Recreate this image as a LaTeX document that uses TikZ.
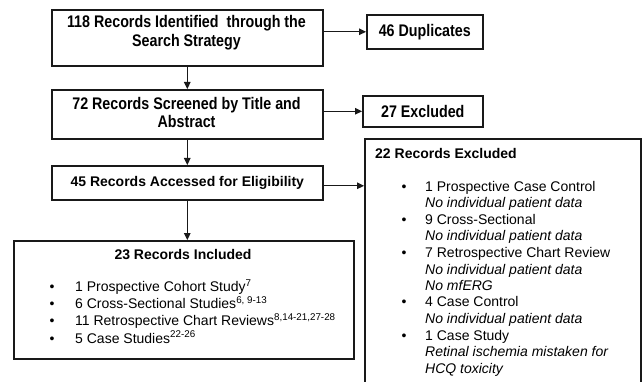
\documentclass[tikz,border=0pt]{standalone}
\usepackage{fontspec}
\setmainfont{Liberation Sans}
\newfontfamily\narrowfont[FakeStretch=0.85]{Liberation Sans}
\usetikzlibrary{arrows.meta}
\begin{document}
\begin{tikzpicture}[x=1pt,y=1pt,
  box/.style={draw=black!90, line width=1.6pt, rectangle, inner sep=0pt, anchor=north west},
  arr/.style={draw=black!90, line width=1.3pt, -{Triangle[length=7pt,width=6.5pt]}},
  toptxt/.style={font=\narrowfont\bfseries\fontsize{16.8}{18.5}\selectfont, align=center, inner sep=0pt},
  midtxt/.style={font=\bfseries\fontsize{14}{16}\selectfont},
  listtxt/.style={inner sep=0pt, anchor=base west}
]
\useasboundingbox (0,0) rectangle (642,-382);
\fill[white] (0,0) rectangle (642,-382);

% boxes
\node[box, minimum width=271pt, minimum height=56pt] (b1) at (51,-9) {};
\node[toptxt] (b1t) at (186.5,-32.5) {118 Records Identified\ \ through the\\Search Strategy};
\node[box, toptxt, minimum width=116pt, minimum height=34pt, anchor=north west] (dup) at (366,-14) {46 Duplicates};

\node[box, minimum width=271pt, minimum height=49pt] (b2) at (51,-89) {};
\node[toptxt] (b2t) at (186.5,-112.5) {72 Records Screened by Title and\\Abstract};
\node[box, toptxt, minimum width=120pt, minimum height=31pt, anchor=north west] (ex27) at (362,-95) {27 Excluded};

\node[box, midtxt, minimum width=271pt, minimum height=34pt] (b3) at (51,-165) {45 Records Accessed for Eligibility};

\node[box, minimum width=276pt, minimum height=246pt] (b22) at (364,-138) {};
\node[midtxt, inner sep=0pt, anchor=base west] (t22) at (375,-158.5) {22 Records Excluded};
\node[listtxt, font=\fontsize{14}{16.5}\selectfont] (l22) at (401.5,-191.5) {%
\begin{tabular}[t]{@{}p{23.5pt}@{}l@{}}
\textbullet & 1 Prospective Case Control\\
 & \textit{No individual patient data}\\
\textbullet & 9 Cross-Sectional\\
 & \textit{No individual patient data}\\
\textbullet & 7 Retrospective Chart Review\\
 & \textit{No individual patient data}\\
 & \textit{No mfERG}\\
\textbullet & 4 Case Control\\
 & \textit{No individual patient data}\\
\textbullet & 1 Case Study\\
 & \textit{Retinal ischemia mistaken for}\\
 & \textit{HCQ toxicity}
\end{tabular}};

\node[box, minimum width=340pt, minimum height=118pt] (b23) at (13,-240) {};
\node[midtxt, inner sep=0pt, anchor=base] (t23) at (183,-259) {23 Records Included};
\node[listtxt, font=\fontsize{14}{17}\selectfont] (l23) at (49.5,-291.5) {%
\begin{tabular}[t]{@{}p{25.5pt}@{}l@{}}
\textbullet & 1 Prospective Cohort Study\textsuperscript{7}\\
\textbullet & 6 Cross-Sectional Studies\textsuperscript{6, 9-13}\\
\textbullet & 11 Retrospective Chart Reviews\textsuperscript{8,14-21,27-28}\\
\textbullet & 5 Case Studies\textsuperscript{22-26}
\end{tabular}};

% connectors
\draw[arr] (b1.east |- dup.west) -- (dup.west);
\draw[arr] (b1.south) -- (b2.north);
\draw[arr] (b2.east |- ex27.west) -- (ex27.west);
\draw[arr] (b2.south) -- (b3.north);
\coordinate (a3) at ([yshift=-3pt]b3.east);
\draw[arr] (a3) -- (a3 -| b22.west);
\draw[arr] (b3.south) -- (b3.south |- b23.north);
\end{tikzpicture}
\end{document}
